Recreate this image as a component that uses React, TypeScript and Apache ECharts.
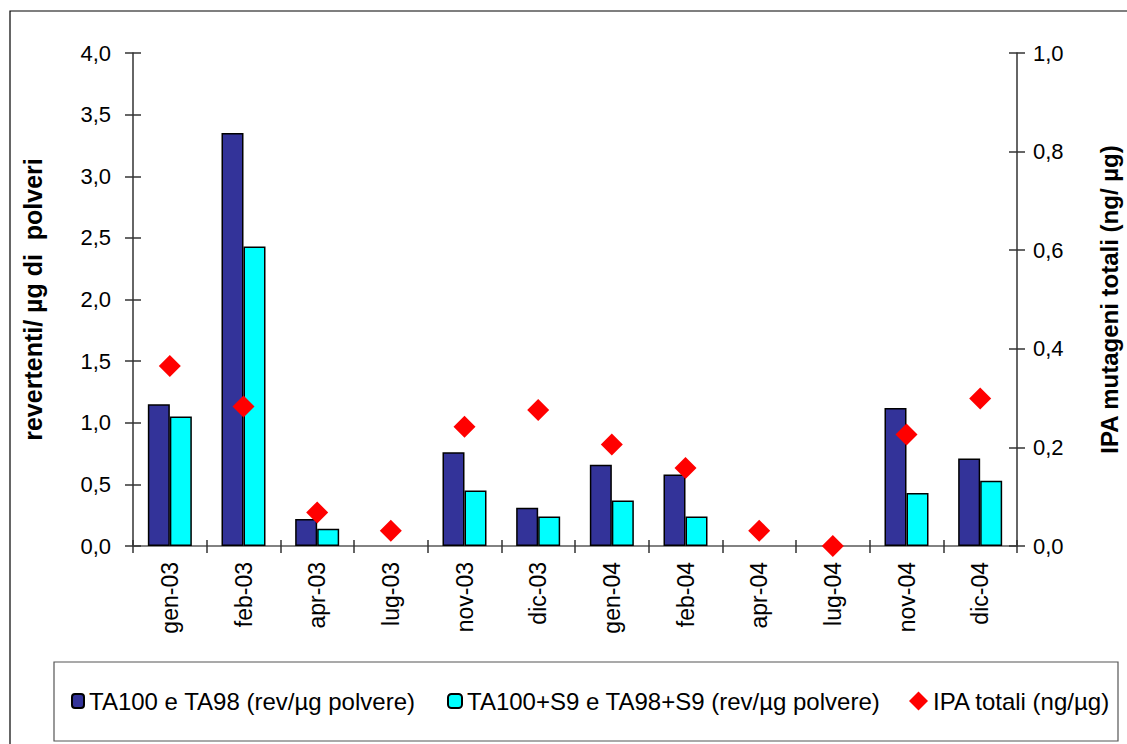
import React, { useEffect, useRef } from "react";
import * as echarts from "echarts";

const categories = ["gen-03", "feb-03", "apr-03", "lug-03", "nov-03", "dic-03", "gen-04", "feb-04", "apr-04", "lug-04", "nov-04", "dic-04"];
const ta100ta98 = [1.15, 3.35, 0.22, null, 0.76, 0.31, 0.66, 0.58, null, null, 1.12, 0.71];
const ta100s9 = [1.05, 2.43, 0.14, null, 0.45, 0.24, 0.37, 0.24, null, null, 0.43, 0.53];
const ipaTotali = [0.365, 0.283, 0.068, 0.031, 0.242, 0.276, 0.206, 0.158, 0.031, 0.0, 0.226, 0.299];

const seriesNames = [
  "TA100 e TA98 (rev/µg polvere)",
  "TA100+S9 e TA98+S9 (rev/µg polvere)",
  "IPA totali (ng/µg)",
];

const FONT = "Liberation Sans, Arial, sans-serif";
const fmt = (v: number) => v.toFixed(1).replace(".", ",");

export default function App() {
  const ref = useRef<HTMLDivElement>(null);
  useEffect(() => {
    if (!ref.current) return;
    document.documentElement.style.overflow = "hidden";
    document.body.style.overflow = "hidden";
    document.body.style.margin = "0";
    const chart = echarts.init(ref.current, null, { renderer: "svg", width: 1127, height: 744 });
    const axisLineStyle = { color: "#333", width: 1.5 };
    const leftScale = { min: 0, max: 4, interval: 0.5 };
    const rightScale = { min: 0, max: 1, interval: 0.2 };
    const legendText = { fontSize: 24, fontFamily: FONT, color: "#000" };
    chart.setOption({
      animation: false,
      backgroundColor: "#fff",
      textStyle: { fontFamily: FONT },
      grid: { left: 133, top: 53, right: 110, bottom: 198, containLabel: false, outerBoundsMode: "none" },
      graphic: [
        { type: "rect", shape: { x: 10, y: 11, width: 1125, height: 740 }, style: { fill: "none", stroke: "#000", lineWidth: 1.2 }, z: -1 },
        { type: "rect", shape: { x: 54, y: 662, width: 1064, height: 79 }, style: { fill: "none", stroke: "#555", lineWidth: 1.2 }, z: -1 },
      ],
      legend: [
        { data: [seriesNames[0]], left: 71, top: 689, padding: 0, itemWidth: 12, itemHeight: 14, textStyle: legendText },
        { data: [seriesNames[1]], left: 447, top: 689, padding: 0, itemWidth: 14, itemHeight: 14, textStyle: legendText },
        { data: [{ name: seriesNames[2], icon: "diamond" }], left: 909, top: 689, padding: 0, itemWidth: 19, itemHeight: 19, textStyle: legendText },
      ],
      xAxis: [
        {
          type: "category",
          data: categories,
          position: "bottom",
          axisLine: { show: true, lineStyle: axisLineStyle },
          axisTick: { show: true, length: 7, lineStyle: axisLineStyle },
          axisLabel: { rotate: 90, fontSize: 23, color: "#000", margin: 16, fontFamily: FONT },
        },
        {
          type: "category",
          data: categories,
          position: "bottom",
          axisLine: { show: false },
          axisTick: { show: true, inside: true, length: 6, lineStyle: axisLineStyle },
          axisLabel: { show: false },
        },
        {
          type: "category",
          data: categories,
          position: "top",
          axisLine: { show: true, lineStyle: { color: "#8c8c8c", width: 1.5 } },
          axisTick: { show: false },
          axisLabel: { show: false },
        },
      ],
      yAxis: [
        {
          type: "value",
          position: "left",
          ...leftScale,
          name: "revertenti/ µg di  polveri",
          nameLocation: "middle",
          nameRotate: 90,
          nameGap: 88,
          nameTextStyle: { fontSize: 25, fontWeight: "bold", color: "#000", fontFamily: FONT },
          axisLine: { show: true, lineStyle: axisLineStyle },
          axisTick: { show: true, length: 8, lineStyle: axisLineStyle },
          axisLabel: { formatter: fmt, fontSize: 22, color: "#000", margin: 22, fontFamily: FONT },
          splitLine: { show: false },
        },
        {
          type: "value",
          position: "right",
          ...rightScale,
          name: "IPA mutageni totali (ng/ µg)",
          nameLocation: "middle",
          nameRotate: 90,
          nameGap: 80,
          nameTextStyle: { fontSize: 24, fontWeight: "bold", color: "#000", fontFamily: FONT },
          axisLine: { show: true, lineStyle: axisLineStyle },
          axisTick: { show: true, length: 8, lineStyle: axisLineStyle },
          axisLabel: { formatter: fmt, fontSize: 22, color: "#000", margin: 16, fontFamily: FONT },
          splitLine: { show: false },
        },
        {
          type: "value",
          position: "left",
          ...leftScale,
          axisLine: { show: false },
          axisTick: { show: true, inside: true, length: 8, lineStyle: axisLineStyle },
          axisLabel: { show: false },
          splitLine: { show: false },
        },
        {
          type: "value",
          position: "right",
          ...rightScale,
          axisLine: { show: false },
          axisTick: { show: true, inside: true, length: 8, lineStyle: axisLineStyle },
          axisLabel: { show: false },
          splitLine: { show: false },
        },
      ],
      series: [
        {
          name: seriesNames[0],
          type: "bar",
          yAxisIndex: 0,
          data: ta100ta98,
          barWidth: 22,
          barGap: "0%",
          itemStyle: { color: "#333399", borderColor: "#000", borderWidth: 1.5 },
        },
        {
          name: seriesNames[1],
          type: "bar",
          yAxisIndex: 0,
          data: ta100s9,
          barWidth: 22,
          barGap: "0%",
          itemStyle: { color: "#00FFFF", borderColor: "#000", borderWidth: 1.5 },
        },
        {
          name: seriesNames[2],
          type: "scatter",
          yAxisIndex: 1,
          data: ipaTotali,
          symbol: "diamond",
          symbolSize: 22,
          itemStyle: { color: "#FF0000", opacity: 1 },
          z: 5,
        },
      ],
    });
    return () => chart.dispose();
  }, []);
  return <div ref={ref} style={{ position: "absolute", left: 0, top: 0, width: 1127, height: 744, overflow: "hidden" }} />;
}
